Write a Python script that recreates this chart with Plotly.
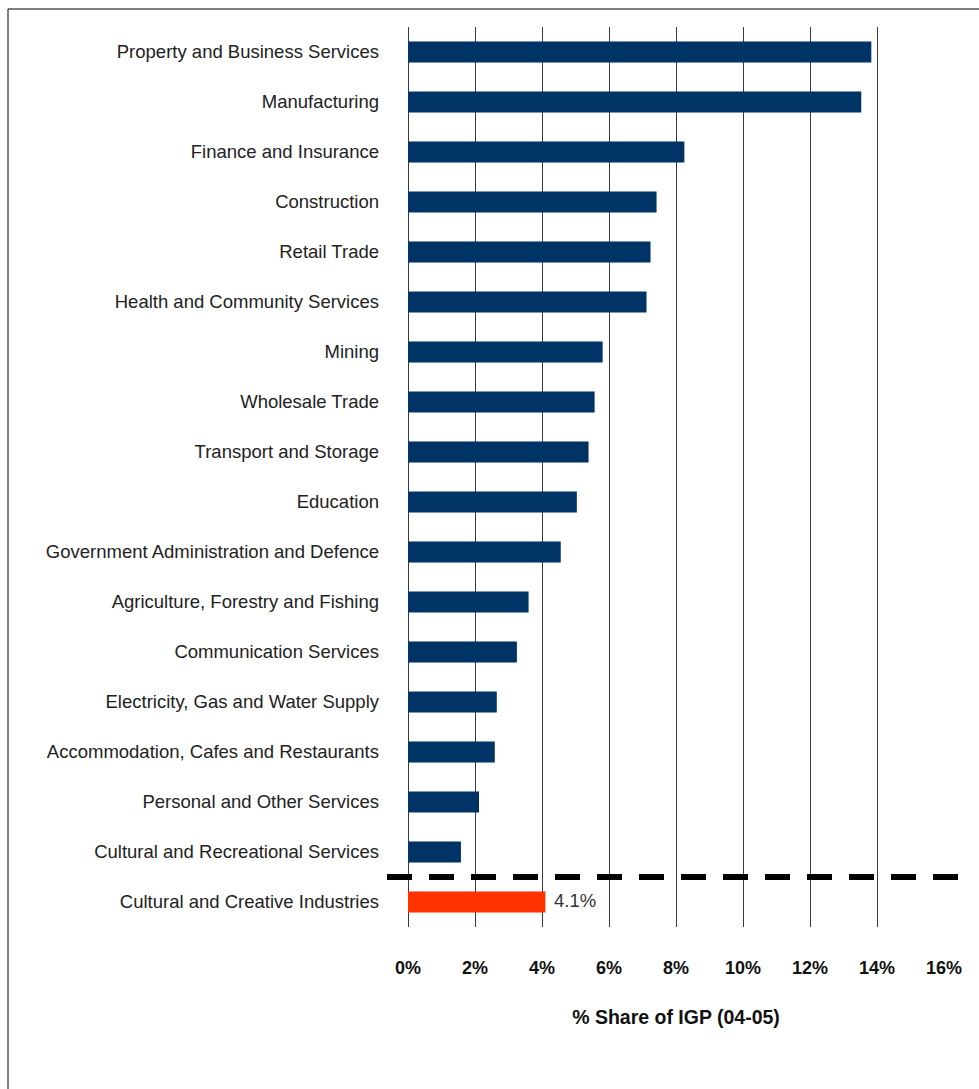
import plotly.graph_objects as go

# Industry share of IGP, 2004-05 (%)
industries = [
    "Property and Business Services",
    "Manufacturing",
    "Finance and Insurance",
    "Construction",
    "Retail Trade",
    "Health and Community Services",
    "Mining",
    "Wholesale Trade",
    "Transport and Storage",
    "Education",
    "Government Administration and Defence",
    "Agriculture, Forestry and Fishing",
    "Communication Services",
    "Electricity, Gas and Water Supply",
    "Accommodation, Cafes and Restaurants",
    "Personal and Other Services",
    "Cultural and Recreational Services",
    "Cultural and Creative Industries",
]
share = [13.83, 13.53, 8.25, 7.42, 7.24, 7.12, 5.81, 5.57, 5.39, 5.04,
         4.56, 3.60, 3.25, 2.65, 2.59, 2.12, 1.58, 4.1]

NAVY = "#003366"
HIGHLIGHT = "#FF3300"
colors = [NAVY] * 17 + [HIGHLIGHT]

FONT = "Liberation Sans, Arial, sans-serif"

fig = go.Figure(
    go.Bar(
        x=share,
        y=industries,
        orientation="h",
        marker=dict(color=colors, line=dict(width=0)),
        cliponaxis=False,
    )
)

L, T, W, H = 408, 27, 536, 900

fig.update_layout(
    width=979,
    height=1089,
    margin=dict(l=L, r=979 - L - W, t=T, b=1089 - T - H, pad=0),
    paper_bgcolor="white",
    plot_bgcolor="white",
    bargap=0.58,
    showlegend=False,
    font=dict(family=FONT, color="#222222"),
    xaxis=dict(
        range=[0, 16],
        dtick=2,
        ticksuffix="%",
        showgrid=True,
        gridcolor="#3a3a3a",
        gridwidth=1,
        zeroline=True,
        zerolinecolor="#3a3a3a",
        zerolinewidth=1,
        showline=False,
        ticks="",
        automargin=False,
        ticklabelstandoff=28,
        tickfont=dict(family=FONT, size=18, color="#111111", weight="bold"),
        title=dict(
            text="% Share of IGP (04-05)",
            font=dict(family=FONT, size=19.5, color="#111111", weight="bold"),
            standoff=33,
        ),
        fixedrange=True,
    ),
    yaxis=dict(
        categoryorder="array",
        categoryarray=industries,
        autorange="reversed",
        showgrid=False,
        zeroline=False,
        showline=False,
        ticks="",
        automargin=False,
        ticklabelstandoff=28,
        tickfont=dict(family=FONT, size=18.5, color="#222222"),
        fixedrange=True,
    ),
)

# Value label on the highlighted bar
fig.add_annotation(
    x=share[-1], y=industries[-1], xref="x", yref="y",
    text=f"{share[-1]:.1f}%", showarrow=False,
    xanchor="left", yanchor="middle", xshift=7, yshift=2,
    font=dict(family=FONT, size=18.5, color="#333333"),
)

# Dashed separator between the industry list and the highlighted total
fig.add_shape(
    type="line",
    xref="paper", yref="y",
    x0=(387 - L) / W, x1=(958 - L) / W,
    y0=16.5, y1=16.5,
    line=dict(color="black", width=6, dash="25px,17px"),
    layer="above",
)

# Outer frame (left and top edges)
fx = (8 - L) / W
fy = 1 + (T - 9) / H
fig.add_shape(type="line", xref="paper", yref="paper",
              x0=fx, x1=fx, y0=fy, y1=-1, line=dict(color="black", width=1))
fig.add_shape(type="line", xref="paper", yref="paper",
              x0=fx, x1=2, y0=fy, y1=fy, line=dict(color="black", width=1))

fig.write_html("out.html")
